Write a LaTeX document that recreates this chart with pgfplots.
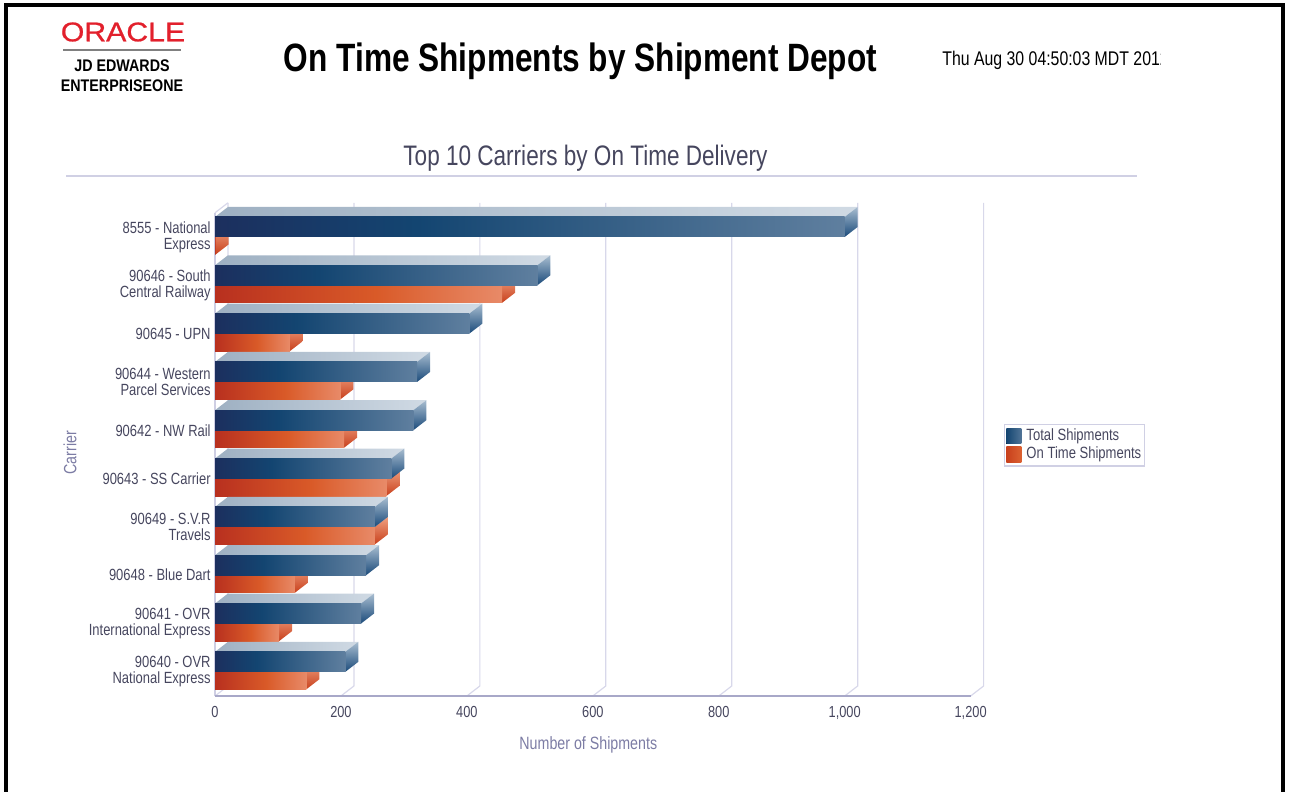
\documentclass[border=0pt]{standalone}
\usepackage{fontspec}
\setmainfont[FakeStretch=0.8]{Liberation Sans}
\newfontfamily\orafont[FakeStretch=1.12,FakeBold=0.8]{Liberation Sans}
\newfontfamily\logofont[FakeStretch=0.85]{Liberation Sans}
\usepackage{pgfplots}
\usepackage{pgfplotstable}
\pgfplotsset{compat=1.18}

\definecolor{labelc}{HTML}{46465E}
\definecolor{axisc}{HTML}{7C7CA4}
\definecolor{gridc}{HTML}{D8D8EA}
\definecolor{floorc}{HTML}{A8A8C8}
\definecolor{ruleC}{HTML}{D0D0E4}
\definecolor{oraclered}{HTML}{E2202C}
% front faces
\definecolor{bA}{HTML}{1C2F5E}\definecolor{bB}{HTML}{134571}\definecolor{bC}{HTML}{5F7F9F}
\definecolor{oA}{HTML}{B8301F}\definecolor{oB}{HTML}{D95A28}\definecolor{oC}{HTML}{E88A68}
% top and side faces
\definecolor{tA}{HTML}{9EB0C2}\definecolor{tB}{HTML}{D0DAE4}
\definecolor{sA}{HTML}{A8BDD0}\definecolor{sB}{HTML}{1A4A7A}
\definecolor{qA}{HTML}{F0A080}\definecolor{qB}{HTML}{C8401C}
\pgfdeclarehorizontalshading{bluefront}{100bp}{color(0bp)=(bA); color(25bp)=(bA); color(41bp)=(bB); color(75bp)=(bC); color(100bp)=(bC)}
\pgfdeclarehorizontalshading{orangefront}{100bp}{color(0bp)=(oA); color(25bp)=(oA); color(53bp)=(oB); color(75bp)=(oC); color(100bp)=(oC)}
\pgfdeclarehorizontalshading{bluetop}{100bp}{color(0bp)=(tA); color(25bp)=(tA); color(75bp)=(tB); color(100bp)=(tB)}
\pgfdeclareverticalshading{blueside}{100bp}{color(0bp)=(sB); color(25bp)=(sB); color(75bp)=(sA); color(100bp)=(sA)}
\pgfdeclareverticalshading{orangeside}{100bp}{color(0bp)=(qB); color(25bp)=(qB); color(75bp)=(qA); color(100bp)=(qA)}

\pgfplotstableread{
row total ontime
9.5 1000 1
8.5 512 456
7.5 404 119
6.5 321 199
5.5 315 205
4.5 280 272
3.5 254 254
2.5 240 127
1.5 232 102
0.5 207 145
}\shipments

% depth of the 3D look, in axis units
\def\dX{20.6}
\def\dY{0.207}
\def\hB{0.414}
\def\hO{0.362}

\begin{document}
\begin{tikzpicture}
\path[use as bounding box] (0,0) rectangle (645pt,396pt);
% page frame
\draw[black,line width=1.8pt] (2.9pt,-2pt) -- (2.9pt,393.5pt) -- (641.5pt,393.5pt) -- (641.5pt,-2pt);
% logo and headers
\node[text=oraclered,font=\orafont\fontsize{13.5}{14}\selectfont] at (61.5pt,380pt) {ORACLE};
\draw[gray,line width=.6pt] (31.5pt,371pt) -- (90.5pt,371pt);
\node[font=\logofont\bfseries\fontsize{8.4}{9}\selectfont] at (61pt,363pt) {JD EDWARDS};
\node[font=\logofont\bfseries\fontsize{8.4}{9}\selectfont] at (61pt,353pt) {ENTERPRISEONE};
\node[font=\bfseries\fontsize{19.76}{22}\selectfont] at (290.2pt,365.3pt) {On Time Shipments by Shipment Depot};
\begin{scope}
\clip (465pt,350pt) rectangle (580pt,380pt);
\node[anchor=west,inner sep=0pt,font=\fontsize{9.9}{11}\selectfont] at (471pt,366pt) {Thu Aug 30 04:50:03 MDT 2012};
\end{scope}
\node[text=labelc,font=\fontsize{14.1}{16}\selectfont] at (292.7pt,317pt) {Top 10 Carriers by On Time Delivery};
\draw[ruleC,line width=1pt] (33pt,308pt) -- (568.5pt,308pt);

\begin{axis}[
  at={(107.5pt,48pt)}, anchor=south west,
  scale only axis, width=384.3pt, height=246.6pt,
  xmin=0, xmax=1220.6, ymin=0, ymax=10.207,
  clip=false,
  axis line style={draw=none},
  major tick length=0pt,
  xtick={0,200,...,1200},
  ytick={0.5,1.5,...,9.5},
  yticklabels={{90640 - OVR\\National Express},{90641 - OVR\\International Express},90648 - Blue Dart,{90649 - S.V.R\\Travels},90643 - SS Carrier,90642 - NW Rail,{90644 - Western\\Parcel Services},90645 - UPN,{90646 - South\\Central Railway},{8555 - National\\Express}},
  yticklabel style={align=right,text=labelc,font=\fontsize{8.1}{8}\selectfont,inner sep=1pt,xshift=-1pt},
  xticklabel style={text=labelc,font=\fontsize{8}{9}\selectfont,/pgf/number format/assume math mode=true},
  x tick label style={yshift=-1.5pt},
  /pgf/number format/1000 sep={,},
  xlabel={Number of Shipments},
  ylabel={Carrier},
  xlabel style={at={(axis description cs:0.4857,-0.0993)},anchor=center,text=axisc,font=\fontsize{8.9}{9}\selectfont},
  ylabel style={at={(axis description cs:-0.1888,0.493)},anchor=center,text=axisc,font=\fontsize{8.9}{9}\selectfont},
  legend cell align=left,
  legend style={at={(axis description cs:1.0260,0.5517)},anchor=north west,draw=ruleC,line width=.7pt,fill=white,
    font=\fontsize{8.15}{8.5}\selectfont,text=labelc,inner xsep=1pt,inner ysep=.5pt,row sep=-1.5pt,
    nodes={inner xsep=.6pt,inner ysep=1.6pt},
    /tikz/every odd column/.append style={column sep=2pt}},
]
\addlegendimage{legend image code/.code={\fill[draw=none,left color=bB,right color=bC!80!bB] (0pt,-3.8pt) rectangle (7.5pt,3.8pt);}}
\addlegendentry{Total Shipments}
\addlegendimage{legend image code/.code={\fill[draw=none,left color=qB,right color=oB!85!oC] (0pt,-3.8pt) rectangle (7.5pt,3.8pt);}}
\addlegendentry{On Time Shipments}

% back wall and floor lines
\pgfplotsinvokeforeach{0,200,...,1200}{
  \addplot[gridc,line width=.6pt,forget plot] coordinates {(#1,0) (#1+\dX,\dY) (#1+\dX,10.207)};
}
\addplot[gridc,line width=.6pt,forget plot] coordinates {(0,10) (\dX,10.207)};
\addplot[gridc!80!floorc,line width=.6pt,forget plot] coordinates {(0,10) (0,0)};
\addplot[floorc,line width=1pt,forget plot] coordinates {(0,0) (1200,0)};

% on time shipments: side face, then the front, one bar at a time so each gets its own gradient
\pgfplotsinvokeforeach{0,...,9}{
  \pgfplotstablegetelem{#1}{ontime}\of\shipments \let\val\pgfplotsretval
  \pgfplotstablegetelem{#1}{row}\of\shipments \let\yy\pgfplotsretval
  \pgfmathsetmacro\yl{\yy-\hO}\pgfmathsetmacro\xb{\val+\dX}
  \pgfmathsetmacro\ylb{\yl+\dY}\pgfmathsetmacro\yb{\yy+\dY}
  \addplot[shading=orangeside,draw=none,forget plot] coordinates {(\val,\yl) (\xb,\ylb) (\xb,\yb) (\val,\yy)} -- cycle;
  \addplot[xbar,bar width=8.75pt,bar shift=-4.375pt,draw=none,shading=orangefront,forget plot] coordinates {(\val,\yy)};
}

% total shipments: top and side faces, then the front
\pgfplotsinvokeforeach{0,...,9}{
  \pgfplotstablegetelem{#1}{total}\of\shipments \let\val\pgfplotsretval
  \pgfplotstablegetelem{#1}{row}\of\shipments \let\yy\pgfplotsretval
  \pgfmathsetmacro\yh{\yy+\hB}\pgfmathsetmacro\xb{\val+\dX}
  \pgfmathsetmacro\yhb{\yh+\dY}\pgfmathsetmacro\yb{\yy+\dY}
  \addplot[shading=bluetop,draw=none,forget plot] coordinates {(0,\yh) (\dX,\yhb) (\xb,\yhb) (\val,\yh)} -- cycle;
  \addplot[shading=blueside,draw=none,forget plot] coordinates {(\val,\yy) (\xb,\yb) (\xb,\yhb) (\val,\yh)} -- cycle;
  \addplot[xbar,bar width=10pt,bar shift=5pt,draw=none,shading=bluefront,forget plot] coordinates {(\val,\yy)};
}
\end{axis}
\end{tikzpicture}
\end{document}
